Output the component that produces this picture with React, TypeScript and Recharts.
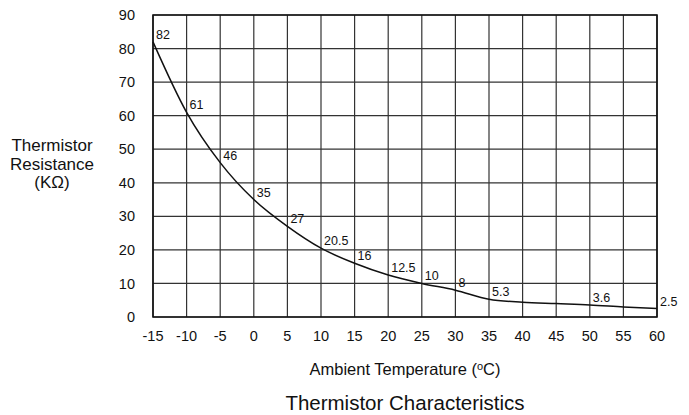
import { LineChart, Line, XAxis, YAxis, CartesianGrid, ReferenceArea } from "recharts";

// ambient temperature (°C) and resistance (KΩ)
const temps = [-15, -10, -5, 0, 5, 10, 15, 20, 25, 30, 35, 40, 45, 50, 55, 60];
const resistance = [82, 61, 46, 35, 27, 20.5, 16, 12.5, 10, 8, 5.3, 4.4, 4.0, 3.6, 3.0, 2.5];
// printed values on the curve (null = no label)
const pointLabels = ["82", "61", "46", "35", "27", "20.5", "16", "12.5", "10", "8", "5.3", null, null, "3.6", null, "2.5"];

const xTicks = [-15, -10, -5, 0, 5, 10, 15, 20, 25, 30, 35, 40, 45, 50, 55, 60];
const yTicks = [0, 10, 20, 30, 40, 50, 60, 70, 80, 90];

const data = temps.map((t, i) => ({ t, r: resistance[i], label: pointLabels[i] }));

const FONT = "'Liberation Sans', Arial, Helvetica, sans-serif";

const PointLabel = (props: any) => {
  const { x, y, index } = props;
  const text = pointLabels[index];
  if (!text) return null;
  return (
    <text x={x + 3} y={y - 3} fontSize={12.5} fill="#111" fontFamily={FONT}>
      {text}
    </text>
  );
};

const App = () => {
  return (
    <div style={{ position: "absolute", left: 0, top: 0, width: 689, height: 415, background: "#fff", fontFamily: FONT }}>
      <LineChart
        width={689}
        height={415}
        data={data}
        margin={{ top: 15, right: 32, bottom: 68, left: 113 }}
      >
        <CartesianGrid stroke="#333" strokeWidth={1.2} />
        <ReferenceArea x1={-15} x2={60} y1={0} y2={90} fill="none" stroke="#111" strokeWidth={1.6} />
        <XAxis
          dataKey="t"
          type="number"
          domain={[-15, 60]}
          ticks={xTicks}
          interval={0}
          axisLine={false}
          tickLine={false}
          tickSize={0}
          tickMargin={14}
          height={30}
          tick={{ fontSize: 14.5, fill: "#111", fontFamily: FONT }}
        />
        <YAxis
          type="number"
          domain={[0, 90]}
          ticks={yTicks}
          interval={0}
          axisLine={false}
          tickLine={false}
          tickSize={0}
          tickMargin={18}
          width={40}
          tick={{ fontSize: 14.5, fill: "#111", fontFamily: FONT }}
        />
        <Line
          type="monotone"
          dataKey="r"
          stroke="#111"
          strokeWidth={1.5}
          dot={false}
          activeDot={false}
          isAnimationActive={false}
          label={<PointLabel />}
        />
      </LineChart>
      <div style={{ position: "absolute", left: 0, width: 104, top: 137, textAlign: "center", fontSize: 17, lineHeight: "18.5px", color: "#111" }}>
        Thermistor
        <br />
        Resistance
        <br />
        (KΩ)
      </div>
      <div style={{ position: "absolute", left: 155, width: 500, top: 360, textAlign: "center", fontSize: 16.5, color: "#111" }}>
        Ambient Temperature (<sup style={{ fontSize: 11, verticalAlign: "5px" }}>o</sup>C)
      </div>
      <div style={{ position: "absolute", left: 155, width: 500, top: 391, textAlign: "center", fontSize: 20.5, color: "#111" }}>
        Thermistor Characteristics
      </div>
    </div>
  );
};

export default App;
